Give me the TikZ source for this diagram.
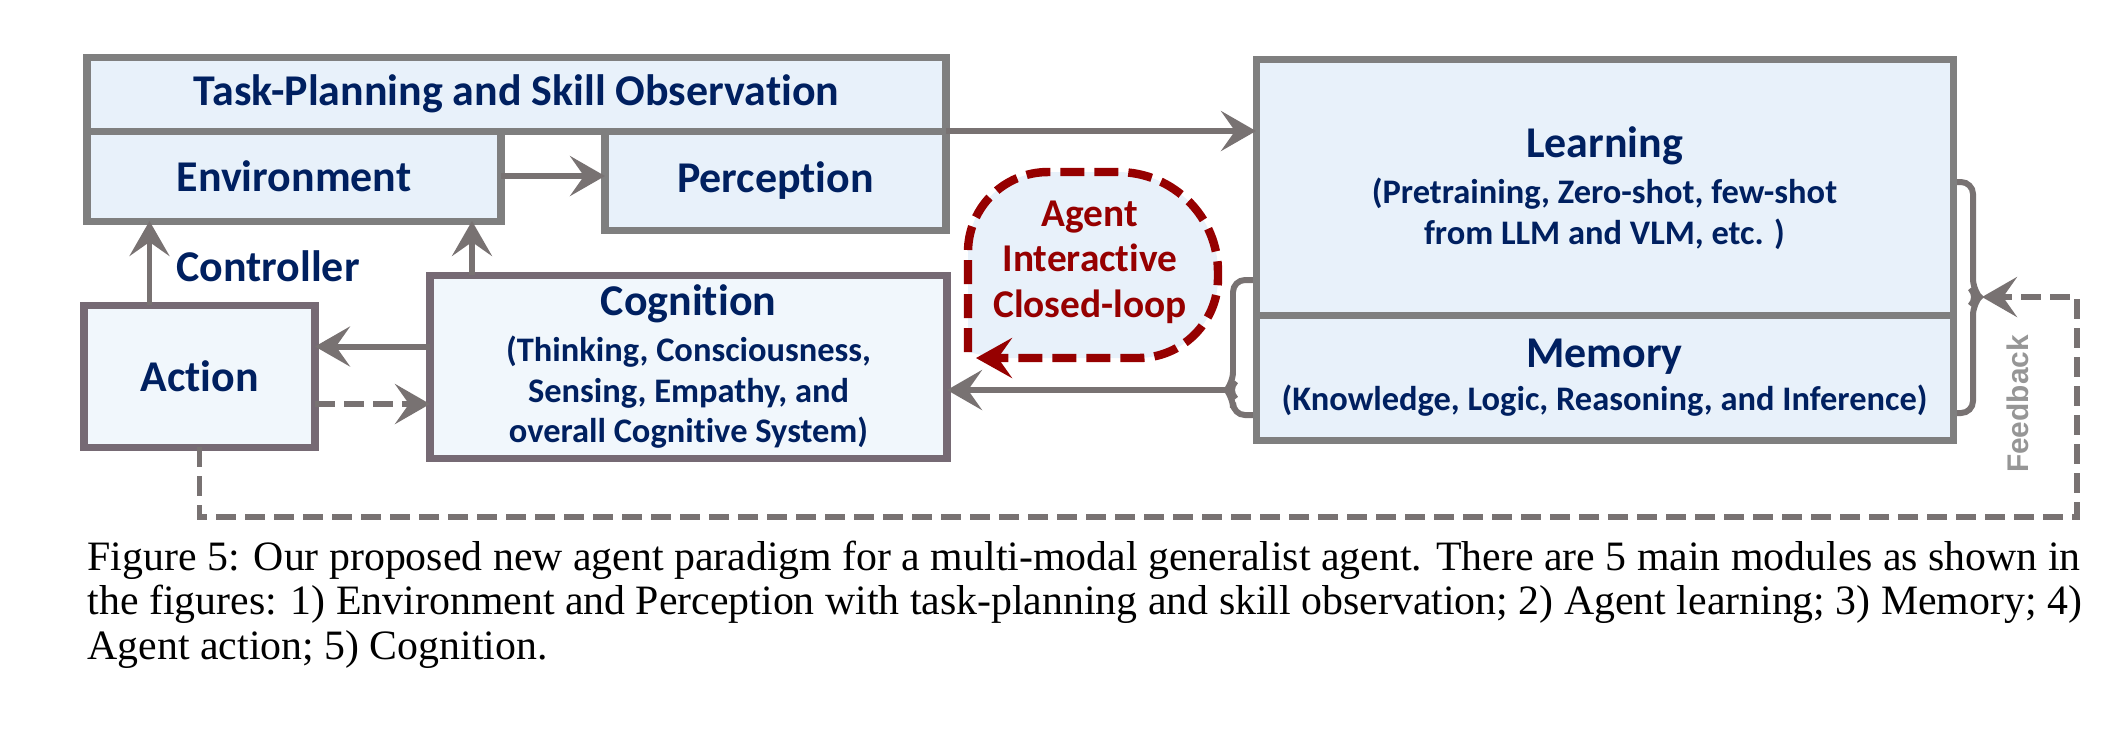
\documentclass[tikz,border=0pt]{standalone}
\usepackage{fontspec}
\setmainfont{Carlito}[RawFeature=-liga]
\newfontfamily\capfont{Liberation Serif}
\newfontfamily\fbfont{Liberation Sans}
\usetikzlibrary{arrows.meta,calc,positioning}

\definecolor{navy}{RGB}{0,32,96}
\definecolor{loopred}{RGB}{150,0,0}
\definecolor{boxgrey}{RGB}{127,127,127}
\definecolor{purgrey}{RGB}{118,106,116}
\definecolor{arrgrey}{RGB}{120,114,114}
\definecolor{boxfill}{RGB}{232,241,250}
\definecolor{boxfilltwo}{RGB}{241,247,252}
\definecolor{fbgrey}{RGB}{150,150,150}

\newcommand{\ttlf}{\bfseries\fontsize{12.5}{14}\selectfont}
\newcommand{\subf}{\bfseries\fontsize{9.8}{11.6}\selectfont}

\tikzset{
  box/.style={draw=boxgrey,fill=boxfill,line width=2pt,inner sep=0pt,outer sep=0pt,
    text=navy,font=\ttlf,align=center},
  pbox/.style={box,draw=purgrey,fill=boxfilltwo},
  sbox/.style={font=\subf},
  arr/.style={draw=arrgrey,line width=1.7pt,-{Stealth[length=3.5mm,width=4mm,inset=1.4mm]}},
  dasharr/.style={arr,dash pattern=on 2mm off 0.9mm},
  bracket/.style={draw=arrgrey,line width=1.7pt,rounded corners=1.2mm},
  loopline/.style={draw=loopred,line width=2.4pt,dash pattern=on 2.4mm off 1mm,fill=boxfill,
    -{Stealth[length=3.6mm,width=4mm,inset=1.4mm]}},
}

\begin{document}
\begin{tikzpicture}[x=0.1mm,y=-0.1mm]
  \useasboundingbox (0,0) rectangle (2122,734);

  % closed loop
  \draw[loopline,rounded corners=8mm] (968,352) -- (968,172) [rounded corners=10mm] -- (1218,172)
    [rounded corners=8mm] -- (1218,358) -- (976,358);
  \node[text=loopred,font=\bfseries\fontsize{11.2}{13}\selectfont,align=center] (loop) at (1090,262)
    {Agent\\Interactive\\Closed-loop};

  % brackets
  \coordinate (lbr) at (1227,390);
  \coordinate (rbr) at (1982,297);
  \draw[bracket] (1256,280) -- (1233,280) -- (1233,384) -- (lbr) -- (1233,396) -- (1233,415) -- (1256,415);
  \draw[bracket] (1953,182) -- (1973,182) -- (1973,291) -- (1979,297) -- (1973,303) -- (1973,413) -- (1953,413);

  % modules
  \node[box,minimum width=85.9mm,minimum height=7.4mm] (task) at (516.5,94) {Task-Planning and Skill Observation};
  \node[box,minimum width=41.4mm,minimum height=9mm] (env) at (294,176) {Environment};
  \node[box,minimum width=34.1mm,minimum height=9.9mm] (perc) at (775.5,180.5) {Perception};
  \node[box,sbox,minimum width=69.7mm,minimum height=25.8mm] (learn) at (1604.5,188)
    {{\ttlf Learning}\\[1.5pt](Pretraining, Zero-shot, few-shot\\from LLM and VLM, etc. )};
  \node[box,sbox,minimum width=69.7mm,minimum height=12.5mm] (mem) at (1604.5,377.5)
    {{\ttlf Memory}\\[0.5pt](Knowledge, Logic, Reasoning, and Inference)};
  \node[pbox,minimum width=23.1mm,minimum height=14.2mm] (action) at (199.5,376) {Action};
  \node[pbox,sbox,minimum width=51.7mm,minimum height=18.3mm] (cog) at (688.5,366.5)
    {{\ttlf Cognition}\\[1.5pt](Thinking, Consciousness,\\Sensing, Empathy, and\\overall Cognitive System)};
  \node[text=navy,font=\ttlf] (ctrl) at (268,266) {Controller};

  % connections
  \draw[arr] (env.east) -- (perc.west |- env.east);
  \draw[arr] (task.south east) -- (learn.west |- task.south east);
  \coordinate (ca) at ($(action.north)+(-50,0)$);
  \draw[arr] (ca) -- (ca |- env.south);
  \coordinate (cc) at ($(cog.north west)+(42,0)$);
  \draw[arr] (cc) -- (cc |- env.south);
  \coordinate (cw) at ($(cog.west)+(0,-20)$);
  \draw[arr] (cw) -- (action.east |- cw);
  \coordinate (ae) at ($(action.east)+(0,28)$);
  \draw[dasharr] (ae) -- (cog.west |- ae);
  \draw[arr] (lbr) -- (cog.east |- lbr);

  % feedback
  \coordinate (fbc) at (2077,517);
  \draw[dasharr] (action.south) |- (fbc) |- (rbr);
  \node[rotate=90,text=fbgrey,font=\fbfont\bfseries\fontsize{8.5}{10}\selectfont] (fb) at (2018,404) {Feedback};

  % caption
  \node[anchor=north west,inner sep=0pt,align=left,font=\capfont\fontsize{11.9}{12.7}\selectfont] (cap) at (87,540)
    {Figure 5: Our proposed new agent paradigm for a multi-modal generalist agent. There are 5 main modules as shown in\\
     the figures: 1) Environment and Perception with task-planning and skill observation; 2) Agent learning; 3) Memory; 4)\\
     Agent action; 5) Cognition.};
\end{tikzpicture}
\end{document}
